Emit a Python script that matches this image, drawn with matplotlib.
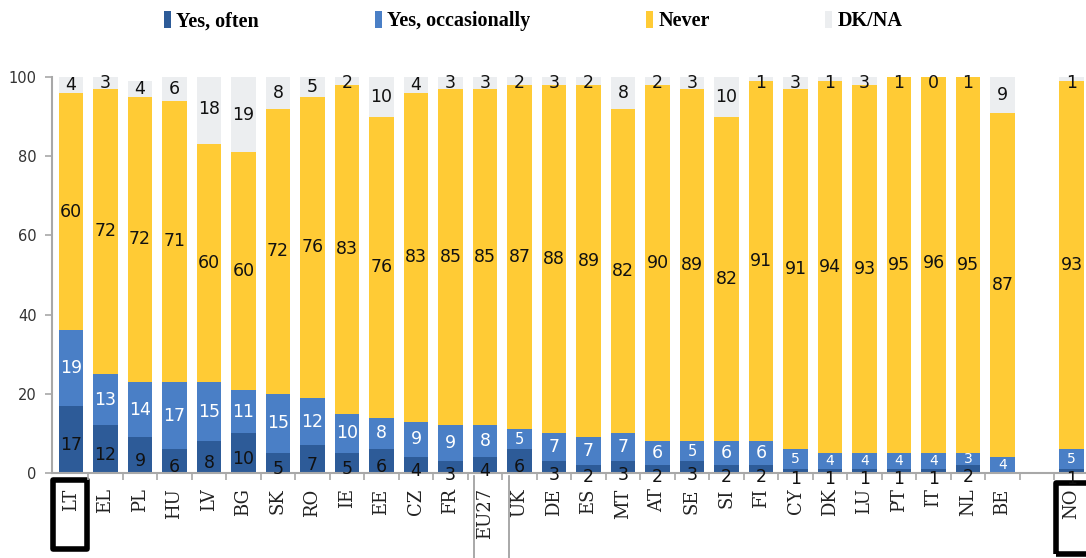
import numpy as np
import matplotlib
matplotlib.use("Agg")
import matplotlib.pyplot as plt
from matplotlib.patches import Rectangle, Patch
from matplotlib.lines import Line2D
from matplotlib.font_manager import FontProperties
import matplotlib.transforms as mtransforms

countries = ["LT", "EL", "PL", "HU", "LV", "BG", "SK", "RO", "IE", "EE", "CZ", "FR",
             "EU27", "UK", "DE", "ES", "MT", "AT", "SE", "SI", "FI", "CY", "DK", "LU",
             "PT", "IT", "NL", "BE", "NO"]
yes_often = [17, 12, 9, 6, 8, 10, 5, 7, 5, 6, 4, 3,
             4, 6, 3, 2, 3, 2, 3, 2, 2, 1, 1, 1,
             1, 1, 2, 0, 1]
yes_occasionally = [19, 13, 14, 17, 15, 11, 15, 12, 10, 8, 9, 9,
                    8, 5, 7, 7, 7, 6, 5, 6, 6, 5, 4, 4,
                    4, 4, 3, 4, 5]
never = [60, 72, 72, 71, 60, 60, 72, 76, 83, 76, 83, 85,
         85, 87, 88, 89, 82, 90, 89, 82, 91, 91, 94, 93,
         95, 96, 95, 87, 93]
dk_na = [4, 3, 4, 6, 18, 19, 8, 5, 2, 10, 4, 3,
         3, 2, 3, 2, 8, 2, 3, 10, 1, 3, 1, 3,
         1, 0, 1, 9, 1]
series_names = ["Yes, often", "Yes, occasionally", "Never", "DK/NA"]

colors = ["#2d5b98", "#4a7fc6", "#ffcb35", "#eceef0"]
label_colors = ["#111111", "#ffffff", "#111111", "#111111"]

# Norway sits apart from the EU member states, one empty slot further right
pos = np.arange(len(countries), dtype=float)
pos[-1] += 1

fig = plt.figure(figsize=(10.86, 5.58), dpi=100)
ax = fig.add_axes([52 / 1086, 85 / 558, 1034 / 1086, 396 / 558])

values = [np.array(yes_often), np.array(yes_occasionally), np.array(never), np.array(dk_na)]
bottom = np.zeros(len(countries))
bar_w = 0.7
for k, (vals, col) in enumerate(zip(values, colors)):
    ax.bar(pos, vals, bar_w, bottom=bottom, color=col, edgecolor="none", zorder=2)
    for x, b, v in zip(pos, bottom, vals):
        if v == 0 and k != 3:
            continue
        yc = b + v / 2.0
        if k == 0:
            off = -4 if v >= 4 else -6
            ax.annotate(str(v), (x, yc), xytext=(0, off), textcoords="offset points",
                        ha="center", va="center", fontsize=12.5, color=label_colors[k],
                        zorder=4, annotation_clip=False)
        elif k == 1:
            fs = 12.5 if v > 5 else 10.5
            if v <= 5 and b <= 2:
                fs = 10
            ax.text(x, yc, str(v), ha="center", va="center", fontsize=fs,
                    color=label_colors[k], zorder=4)
        elif k == 3:
            ax.text(x, min(yc, 98.5), str(v), ha="center", va="center", fontsize=12.5,
                    color=label_colors[k], zorder=4)
        else:
            ax.text(x, yc, str(v), ha="center", va="center", fontsize=12.5,
                    color=label_colors[k], zorder=4)
    bottom = bottom + vals

ax.set_xlim(-0.55, 29.42)
ax.set_ylim(0, 100)

for side in ["top", "right"]:
    ax.spines[side].set_visible(False)
for side in ["left", "bottom"]:
    ax.spines[side].set_color("#a8a8a8")
    ax.spines[side].set_linewidth(1.5)

ax.set_yticks(np.arange(0, 101, 20))
ax.tick_params(axis="y", direction="out", length=5, width=1.2, color="#a8a8a8",
               labelsize=10.5, labelcolor="#333333", pad=6)

ax.set_xticks(pos)
ax.set_xticklabels(countries, rotation=90, fontfamily="DejaVu Serif", fontsize=13,
                   color="#222222", va="top")
ax.tick_params(axis="x", which="major", length=0, pad=11)
ax.set_xticks(np.arange(0.5, 29.0, 1.0), minor=True)
ax.tick_params(axis="x", which="minor", direction="out", length=5, width=1.2,
               color="#a8a8a8")

# Highlight frames around the LT and NO labels, thin frame around EU27
trans = mtransforms.blended_transform_factory(ax.transData, ax.transAxes)
ax.add_patch(Rectangle((-0.52, -0.192), 0.98, 0.174, transform=trans, fill=False,
                       edgecolor="black", linewidth=4, joinstyle="round", clip_on=False))
ax.add_patch(Rectangle((pos[-1] - 0.46, -0.205), 1.0, 0.18, transform=trans, fill=False,
                       edgecolor="black", linewidth=4, joinstyle="round", clip_on=False))
for dx in (-0.32, 0.70):
    ax.add_line(Line2D([pos[12] + dx, pos[12] + dx], [-0.008, -0.3], transform=trans,
                       color="#9a9a9a", linewidth=1.2, clip_on=False))

handles = [Patch(facecolor=c, edgecolor="none") for c in colors]
leg_font = FontProperties(family="Liberation Serif", weight="bold", size=14.5)
fig.legend(handles, series_names, loc="center", bbox_to_anchor=(0.491, 0.962),
           ncol=4, frameon=False, handlelength=0.35, handleheight=0.9,
           handletextpad=0.25, columnspacing=5.75, prop=leg_font)

fig.savefig("out.png", dpi=100)
